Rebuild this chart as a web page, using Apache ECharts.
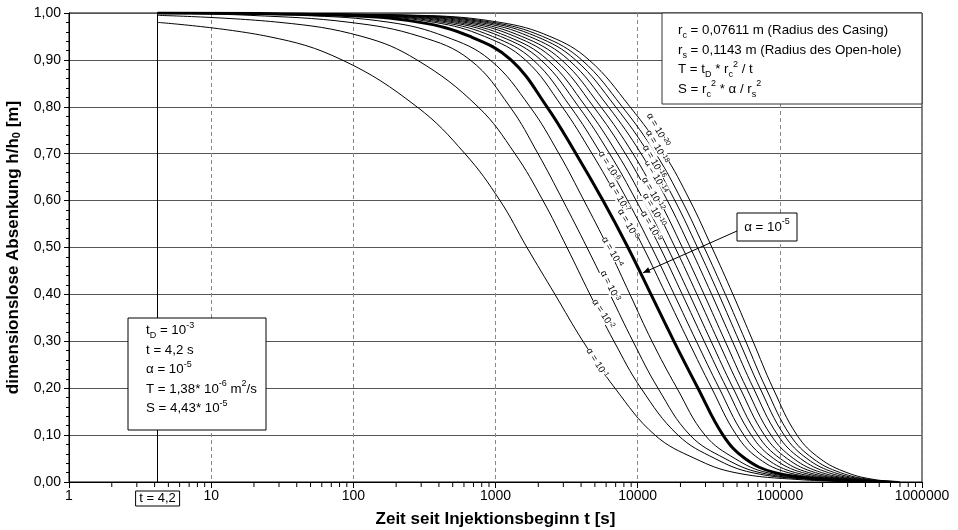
<!DOCTYPE html>
<html><head><meta charset="utf-8">
<script src="https://cdn.jsdelivr.net/npm/echarts@6/dist/echarts.min.js"></script>
<style>html,body{margin:0;padding:0;background:#fff}#c{width:958px;height:530px}</style>
</head><body><div id="c"></div>
<script>
// ---- data: time t [s] at which each curve reaches the given h/h0 level ----
const LEVELS = [0.995, 0.98, 0.95, 0.9, 0.8, 0.7, 0.6, 0.5, 0.4, 0.3, 0.2, 0.1, 0.05, 0.02, 0.005, 0.001];
const T_START = 4.2;
const ALPHA_EXP = [-1, -2, -3, -4, -5, -6, -7, -8, -9, -10, -12, -14, -16, -18, -20];
const START_VAL = [0.98, 0.995, 1, 1, 1, 1, 1, 1, 1, 1, 1, 1, 1, 1, 1];
const T_A1  = [null, null, 25.1, 83.2, 280, 610, 1076, 1665, 2620, 4125, 6925, 13240, 25310, 48360, 138600, 366100];
const T_A2  = [null, 30.5, 115, 280, 753, 1371, 2158, 3183, 4619, 6814, 10550, 19210, 34980, 63700, 168300, 397000];
const T_A3  = [18.8, 94.7, 294, 662, 1264, 1991, 2984, 4400, 6389, 9271, 13900, 23330, 41150, 72520, 185500, 430700];
const T_A4  = [42.2, 181, 441, 915, 1748, 2796, 4192, 6184, 8831, 12610, 18900, 29750, 48360, 81210, 204400, 467000];
const T_A5  = [80.6, 294, 662, 1285, 2302, 3682, 5704, 8549, 12410, 18000, 26570, 39820, 56870, 92450, 225300, 506300];
const T_A6  = [102, 373, 838, 1620, 2945, 4778, 7379, 10970, 15820, 22770, 33160, 49560, 71000, 114500, 257300, 537600];
const T_A7  = [116, 425, 954, 1839, 3369, 5513, 8495, 12570, 18070, 25880, 37450, 55860, 80170, 128700, 276800, 555400];
const T_A8  = [132, 483, 1086, 2083, 3847, 6348, 9763, 14380, 20600, 29370, 42280, 62980, 90510, 144300, 297600, 572800];
const T_A9  = [148, 540, 1214, 2325, 4323, 7187, 11040, 16180, 23150, 32840, 46960, 69880, 100600, 159800, 317100, 589700];
const T_A10 = [167, 609, 1369, 2612, 4897, 8197, 12570, 18340, 26140, 36900, 52530, 77980, 112500, 177800, 338800, 607000];
const T_A12 = [186, 681, 1531, 2912, 5503, 9271, 14220, 20630, 29330, 41270, 58370, 86630, 124900, 197000, 361400, 624900];
const T_A14 = [210, 768, 1726, 3272, 6223, 10570, 16180, 23410, 33160, 46430, 65270, 96720, 139700, 219200, 386300, 643400];
const T_A16 = [235, 860, 1933, 3652, 6993, 11970, 18270, 26350, 37210, 51860, 72520, 107300, 155200, 242300, 411500, 661500];
const T_A18 = [261, 954, 2144, 4039, 7795, 13410, 20460, 29370, 41400, 57530, 79900, 118100, 171100, 266200, 436200, 678800];
const T_A20 = [294, 1076, 2417, 4546, 8831, 15320, 23330, 33320, 46810, 64740, 89480, 132000, 191600, 296700, 467000, 700000];
const CURVES_T = [T_A1, T_A2, T_A3, T_A4, T_A5, T_A6, T_A7, T_A8, T_A9, T_A10, T_A12, T_A14, T_A16, T_A18, T_A20];
const X_TICKS = [1, 10, 100, 1000, 10000, 100000, 1000000];
const Y_TICKS = [0, 0.1, 0.2, 0.3, 0.4, 0.5, 0.6, 0.7, 0.8, 0.9, 1.0];
const ARROW_TIP = [10900, 0.446];

const FONT = "'Liberation Sans', Arial, sans-serif";
const chart = echarts.init(document.getElementById('c'), null, {renderer: 'canvas'});

function curveData(i) {
  const pts = [[T_START, START_VAL[i]]];
  CURVES_T[i].forEach((t, j) => { if (t != null) pts.push([t, LEVELS[j]]); });
  return pts;
}

const minorTicks = [];
for (let k = 0; k < 6; k++) for (let m = 2; m <= 9; m++) minorTicks.push([m * Math.pow(10, k), 0]);

const series = CURVES_T.map((_, i) => ({
  type: 'line',
  name: 'α = 10^' + ALPHA_EXP[i],
  data: curveData(i),
  showSymbol: false,
  smooth: 0.4,
  silent: true,
  lineStyle: {color: '#000', width: ALPHA_EXP[i] === -5 ? 3 : 1},
  z: ALPHA_EXP[i] === -5 ? 4 : 3,
  markLine: i === 0 ? {
    silent: true, symbol: 'none', label: {show: false},
    lineStyle: {color: '#000', width: 1, type: 'solid'},
    data: [{xAxis: T_START}]
  } : undefined
}));
series.push({
  type: 'custom', silent: true, clip: false, data: minorTicks,
  renderItem: (params, api) => {
    const p = api.coord([api.value(0), 0]);
    return {type: 'line', shape: {x1: p[0], y1: p[1], x2: p[0], y2: p[1] + 5}, style: {stroke: '#000', lineWidth: 1}};
  }
});

const BOX_FS = 13.3;
const supStyle = {fontSize: 9, lineHeight: 12, verticalAlign: 'top', fontFamily: FONT, color: '#000'};
const subStyle = {fontSize: 9, lineHeight: 12, verticalAlign: 'bottom', fontFamily: FONT, color: '#000'};

chart.setOption({
  animation: false,
  backgroundColor: '#fff',
  grid: {left: 69, right: 36, top: 13, bottom: 48, show: true, borderColor: '#000', borderWidth: 1,
         containLabel: false, outerBoundsMode: 'none'},
  xAxis: {
    type: 'log', logBase: 10, min: X_TICKS[0], max: X_TICKS[X_TICKS.length - 1],
    axisLine: {show: true, lineStyle: {color: '#000', width: 1}},
    axisTick: {show: true, length: 6, lineStyle: {color: '#000'}},
    splitLine: {show: true, lineStyle: {color: '#888', width: 1, type: [4, 3]}},
    axisLabel: {color: '#000', fontSize: 14, fontFamily: FONT, margin: 7, formatter: v => String(Math.round(v))},
    name: 'Zeit seit Injektionsbeginn t [s]', nameLocation: 'middle', nameGap: 29,
    nameTextStyle: {color: '#000', fontSize: 17, fontWeight: 'bold', fontFamily: FONT}
  },
  yAxis: {
    type: 'value', min: Y_TICKS[0], max: Y_TICKS[Y_TICKS.length - 1], interval: 0.1,
    axisLine: {show: true, lineStyle: {color: '#000', width: 1}},
    axisTick: {show: true, length: 5, lineStyle: {color: '#000'}},
    minorTick: {show: true, splitNumber: 5, length: 3, lineStyle: {color: '#000'}},
    splitLine: {show: true, lineStyle: {color: '#555', width: 1}},
    axisLabel: {color: '#000', fontSize: 14, fontFamily: FONT, margin: 8, formatter: v => v.toFixed(2).replace('.', ',')},
    name: 'dimensionslose Absenkung h/h{sb|0} [m]', nameLocation: 'middle', nameGap: 41,
    nameTextStyle: {color: '#000', fontSize: 17, fontWeight: 'bold', fontFamily: FONT, lineHeight: 20,
      rich: {sb: {fontSize: 11, fontWeight: 'bold', lineHeight: 14, verticalAlign: 'bottom', fontFamily: FONT, color: '#000'}}}
  },
  series: series
});

// ---- annotations ----
const baseT = {fontSize: BOX_FS, lineHeight: 19.5, fontFamily: FONT, color: '#000'};
const richBox = {t: baseT, sp: supStyle, sb: subStyle};
const lblT = {fontSize: 9.5, lineHeight: 11, fontFamily: FONT, color: '#000', backgroundColor: '#fff'};
const lblS = {fontSize: 7, lineHeight: 8, verticalAlign: 'top', fontFamily: FONT, color: '#000', backgroundColor: '#fff'};

const CURVE_LABEL_POS = [
  [-1, 597, 363, -58], [-2, 603, 314, -57], [-3, 610, 286, -63], [-4, 612, 252, -60],
  [-6, 609, 166, -58], [-7, 619, 197, -60], [-8, 628, 224, -60], [-9, 651, 226, -60],
  [-10, 654, 210, -60], [-12, 653, 194, -60], [-14, 656, 177, -60], [-16, 654, 162, -60],
  [-18, 657, 147, -60], [-20, 658, 130, -60]
];

const tip = chart.convertToPixel({gridIndex: 0}, ARROW_TIP);
const x42 = chart.convertToPixel({xAxisIndex: 0}, T_START);
const from = [737, 231];
const ang = Math.atan2(tip[1] - from[1], tip[0] - from[0]);
const ah = 7, aw = 3;
const arrowHead = [
  [tip[0], tip[1]],
  [tip[0] - ah * Math.cos(ang) + aw * Math.sin(ang), tip[1] - ah * Math.sin(ang) - aw * Math.cos(ang)],
  [tip[0] - ah * Math.cos(ang) - aw * Math.sin(ang), tip[1] - ah * Math.sin(ang) + aw * Math.cos(ang)]
];

const graphics = [
  {type: 'rect', z: 50, shape: {x: 662, y: 13, width: 260, height: 91}, style: {fill: '#fff', stroke: '#333', lineWidth: 1}},
  {type: 'text', z: 51, x: 678, y: 21, style: {
    text: '{t|r}{sb|c}{t| = 0,07611 m (Radius des Casing)}\n{t|r}{sb|s}{t| = 0,1143 m (Radius des Open-hole)}\n{t|T = t}{sb|D}{t| * r}{sb|c}{sp|2}{t| / t}\n{t|S = r}{sb|c}{sp|2}{t| * α / r}{sb|s}{sp|2}',
    rich: richBox, align: 'left', verticalAlign: 'top'}},
  {type: 'rect', z: 50, shape: {x: 128, y: 318, width: 138, height: 112}, style: {fill: '#fff', stroke: '#000', lineWidth: 1}},
  {type: 'text', z: 51, x: 146, y: 321, style: {
    text: '{t|t}{sb|D}{t| = 10}{sp|-3}\n{t|t = 4,2 s}\n{t|α = 10}{sp|-5}\n{t|T = 1,38* 10}{sp|-6}{t| m}{sp|2}{t|/s}\n{t|S = 4,43* 10}{sp|-5}',
    rich: richBox, align: 'left', verticalAlign: 'top'}},
  {type: 'line', z: 52, shape: {x1: from[0], y1: from[1], x2: tip[0], y2: tip[1]}, style: {stroke: '#000', lineWidth: 1}},
  {type: 'polygon', z: 52, shape: {points: arrowHead}, style: {fill: '#000'}},
  {type: 'rect', z: 53, shape: {x: 737, y: 213, width: 60, height: 28}, style: {fill: '#fff', stroke: '#000', lineWidth: 1}},
  {type: 'text', z: 54, x: 767, y: 227, style: {text: '{t|α = 10}{sp|-5}', rich: richBox, align: 'center', verticalAlign: 'middle'}},
  {type: 'rect', z: 50, shape: {x: x42 - 22, y: 491, width: 44, height: 15}, style: {fill: '#fff', stroke: '#000', lineWidth: 1}},
  {type: 'text', z: 51, x: x42, y: 498.5, style: {text: 't = 4,2', font: '13px ' + FONT, fill: '#000', align: 'center', verticalAlign: 'middle'}}
];
CURVE_LABEL_POS.forEach(([e, x, y, r]) => {
  graphics.push({type: 'text', z: 40, x: x, y: y, rotation: r * Math.PI / 180, style: {
    text: '{t|α = 10}{s|' + e + '}', rich: {t: lblT, s: lblS}, align: 'center', verticalAlign: 'middle'}});
});
chart.setOption({graphic: graphics});
</script>
</body></html>
